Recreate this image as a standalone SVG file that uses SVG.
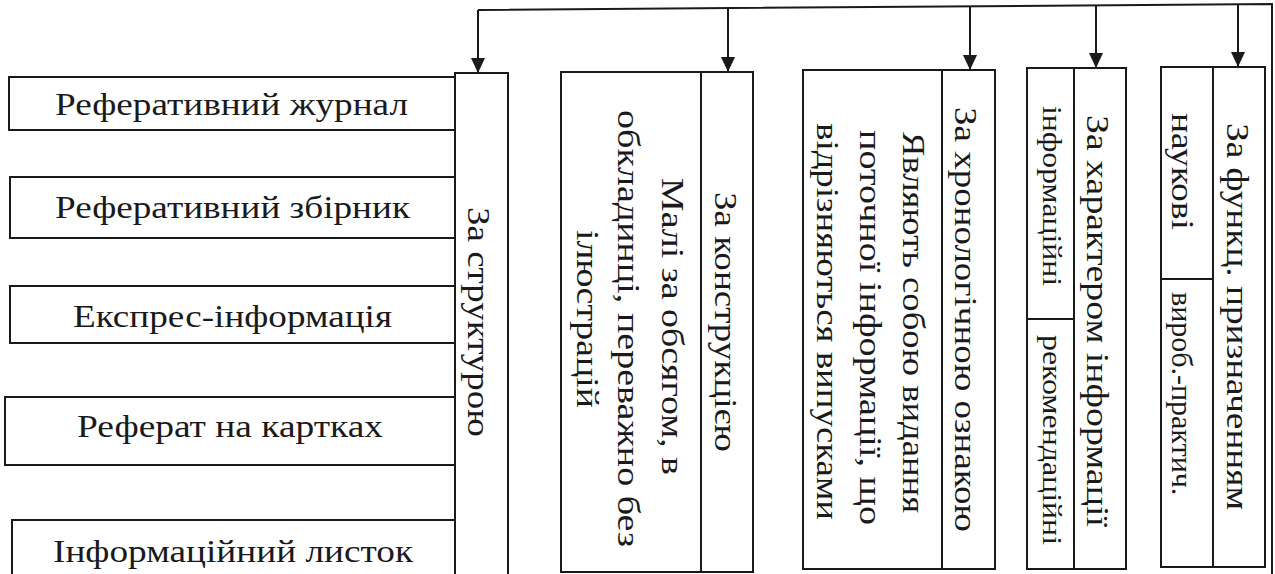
<svg xmlns="http://www.w3.org/2000/svg" width="1275" height="574" viewBox="0 0 1275 574">
  <defs>
    <style>
      .box { fill: none; stroke: #1a1a1a; stroke-width: 2; }
      .ln { fill: none; stroke: #1a1a1a; stroke-width: 2; }
      .t { font-family: "Liberation Serif", "Times New Roman", serif; fill: #1a1a1a; }
      .h { font-size: 31px; }
      .v { font-size: 31px; }
      .s { font-size: 28px; }
      .m { font-size: 30px; }
    </style>
    <marker id="arr" markerUnits="userSpaceOnUse" markerWidth="15" markerHeight="14" refX="15" refY="7" orient="auto">
      <path d="M0,0 L15,7 L0,14 z" fill="#1a1a1a"/>
    </marker>
  </defs>
  <rect x="0" y="0" width="1275" height="574" fill="#ffffff"/>

  <g id="connectors">
    <path class="ln" d="M478,10 L1272,4 L1272,580"/>
    <line class="ln" x1="478" y1="10" x2="478" y2="73" marker-end="url(#arr)"/>
    <line class="ln" x1="728" y1="8" x2="728" y2="72" marker-end="url(#arr)"/>
    <line class="ln" x1="970" y1="6" x2="970" y2="70" marker-end="url(#arr)"/>
    <line class="ln" x1="1096" y1="5" x2="1096" y2="68" marker-end="url(#arr)"/>
    <line class="ln" x1="1238" y1="4" x2="1238" y2="67" marker-end="url(#arr)"/>
  </g>

  <g id="n-structure">
    <rect class="box" x="455" y="73" width="53" height="510"/>
    <text class="t v" transform="translate(468,207) rotate(90)" textLength="230" lengthAdjust="spacingAndGlyphs">За структурою</text>
  </g>
  <g id="n-journal">
    <rect class="box" x="9" y="77" width="446" height="53"/>
    <text class="t h" x="55" y="115" textLength="353" lengthAdjust="spacingAndGlyphs">Реферативний журнал</text>
  </g>
  <g id="n-zbirnyk">
    <rect class="box" x="10" y="177" width="445" height="61"/>
    <text class="t h" x="55" y="218" textLength="355" lengthAdjust="spacingAndGlyphs">Реферативний збірник</text>
  </g>
  <g id="n-express">
    <rect class="box" x="10" y="286" width="445" height="57"/>
    <text class="t h" x="73" y="327" textLength="319" lengthAdjust="spacingAndGlyphs">Експрес-інформація</text>
  </g>
  <g id="n-cards">
    <rect class="box" x="5" y="397" width="450" height="68"/>
    <text class="t h" x="77" y="437" textLength="306" lengthAdjust="spacingAndGlyphs">Реферат на картках</text>
  </g>
  <g id="n-leaflet">
    <rect class="box" x="12" y="520" width="443" height="60"/>
    <text class="t h" x="53" y="562" textLength="360" lengthAdjust="spacingAndGlyphs">Інформаційний листок</text>
  </g>

  <g id="n-construction">
    <rect class="box" x="561" y="72" width="192" height="500"/>
    <line class="ln" x1="701" y1="72" x2="701" y2="572"/>
    <text class="t v" transform="translate(715,192) rotate(90)" textLength="260" lengthAdjust="spacingAndGlyphs">За конструкцією</text>
    <text class="t v" transform="translate(662,178) rotate(90)" textLength="297" lengthAdjust="spacingAndGlyphs">Малі за обсягом, в</text>
    <text class="t v" transform="translate(618,110) rotate(90)" textLength="437" lengthAdjust="spacingAndGlyphs">обкладинці, переважно без</text>
    <text class="t v" transform="translate(577,230) rotate(90)" textLength="178" lengthAdjust="spacingAndGlyphs">ілюстрацій</text>
  </g>

  <g id="n-chrono">
    <rect class="box" x="803" y="70" width="192" height="499"/>
    <line class="ln" x1="942" y1="70" x2="942" y2="569"/>
    <text class="t v" transform="translate(955,107) rotate(90)" textLength="425" lengthAdjust="spacingAndGlyphs">За хронологічною ознакою</text>
    <text class="t v" transform="translate(903,132) rotate(90)" textLength="381" lengthAdjust="spacingAndGlyphs">Являють собою видання</text>
    <text class="t v" transform="translate(860,130) rotate(90)" textLength="395" lengthAdjust="spacingAndGlyphs">поточної інформації, що</text>
    <text class="t v" transform="translate(817,123) rotate(90)" textLength="397" lengthAdjust="spacingAndGlyphs">відрізняються випусками</text>
  </g>

  <g id="n-character">
    <rect class="box" x="1027" y="68" width="99" height="501"/>
    <line class="ln" x1="1074" y1="68" x2="1074" y2="569"/>
    <line class="ln" x1="1027" y1="319" x2="1074" y2="319"/>
    <text class="t v" transform="translate(1087,115) rotate(90)" textLength="412" lengthAdjust="spacingAndGlyphs">За характером інформації</text>
    <text class="t s" transform="translate(1043,106) rotate(90)" textLength="180" lengthAdjust="spacingAndGlyphs">інформаційні</text>
    <text class="t s" transform="translate(1043,335) rotate(90)" textLength="210" lengthAdjust="spacingAndGlyphs">рекомендаційні</text>
  </g>

  <g id="n-function">
    <rect class="box" x="1161" y="67" width="104" height="500"/>
    <line class="ln" x1="1213" y1="67" x2="1213" y2="567"/>
    <line class="ln" x1="1161" y1="279" x2="1213" y2="279"/>
    <text class="t v" transform="translate(1227,123) rotate(90)" textLength="387" lengthAdjust="spacingAndGlyphs">За функц. призначенням</text>
    <text class="t v" transform="translate(1172,113) rotate(90)" textLength="117" lengthAdjust="spacingAndGlyphs">наукові</text>
    <text class="t m" transform="translate(1172,292) rotate(90)">вироб.-практич.</text>
  </g>
</svg>
